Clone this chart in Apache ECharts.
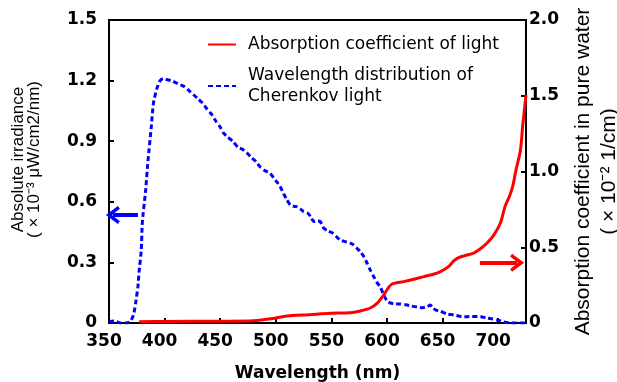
<!DOCTYPE html>
<html>
<head>
<meta charset="utf-8">
<script src="https://cdn.jsdelivr.net/npm/echarts@6/dist/echarts.min.js"></script>
<style>
  html, body { margin: 0; padding: 0; background: #fff; }
  #main { width: 617px; height: 382px; }
</style>
</head>
<body>
<div id="main"></div>
<script>
// wavelength (nm) -> Cherenkov light distribution (x10^-3 uW/cm2/nm)
const cherenkovNm = [350, 355, 360, 365, 369, 372, 374, 376, 377, 379, 380, 383, 385, 388, 390, 393, 396, 399, 402, 406,
  410, 414, 418, 422, 426, 430, 434, 438, 442, 446, 450, 453, 457, 462, 466, 470, 474, 478, 482, 486,
  490, 495, 500, 504, 507, 510, 513, 516, 519, 522, 525, 529, 532, 534, 537, 540, 543, 547, 551, 555,
  558, 561, 564, 567, 570, 573, 576, 579, 582, 585, 588, 591, 594, 597, 600, 603, 607, 612, 617, 622,
  627, 632, 636, 639, 641, 644, 648, 654, 660, 668, 676, 684, 690, 695, 699, 705, 711, 720, 725];
const cherenkovVal = [0.006, 0.01, 0.0, 0.0, 0.006, 0.04, 0.1, 0.18, 0.25, 0.36, 0.5, 0.66, 0.8, 0.97, 1.09, 1.16, 1.2, 1.21, 1.205, 1.2,
  1.19, 1.18, 1.17, 1.15, 1.13, 1.11, 1.09, 1.06, 1.035, 1.0, 0.97, 0.94, 0.92, 0.895, 0.87, 0.86, 0.842, 0.82, 0.8, 0.772,
  0.755, 0.74, 0.705, 0.675, 0.64, 0.61, 0.584, 0.578, 0.576, 0.565, 0.551, 0.543, 0.52, 0.502, 0.505, 0.502, 0.47, 0.455, 0.446, 0.425,
  0.411, 0.405, 0.4, 0.395, 0.386, 0.37, 0.353, 0.33, 0.297, 0.262, 0.23, 0.2, 0.178, 0.14, 0.11, 0.099, 0.095, 0.094, 0.09, 0.084,
  0.079, 0.076, 0.08, 0.089, 0.075, 0.064, 0.058, 0.045, 0.04, 0.031, 0.032, 0.031, 0.025, 0.02, 0.015, 0.005, 0.0, 0.0, 0.0];

// wavelength (nm) -> absorption coefficient of pure water (x10^-2 1/cm)
const absorbNm = [377, 400, 450, 480, 498, 510, 530, 549, 567, 575, 585, 591, 597, 601, 604, 608, 615, 625, 633, 641,
  648, 655, 660, 664, 670, 678, 684, 690, 696, 702, 706, 710, 713, 716, 720, 722, 725];
const absorbVal = [0.009, 0.01, 0.012, 0.015, 0.03, 0.046, 0.055, 0.064, 0.068, 0.078, 0.099, 0.13, 0.185, 0.23, 0.255, 0.265, 0.273, 0.29, 0.306, 0.32,
  0.339, 0.37, 0.41, 0.43, 0.445, 0.462, 0.49, 0.528, 0.58, 0.66, 0.766, 0.834, 0.9, 1.01, 1.14, 1.3, 1.505];

const seriesNames = ['Absorption coefficient of light', 'Wavelength distribution of\nCherenkov light'];

// arrows pointing to the axis each curve belongs to
const blueArrow = [[376, 0.535], [353.5, 0.535]];
const redArrow = [[683.5, 0.398], [717, 0.398]];

let myChart = echarts.init(document.getElementById('main'));

const chevron = 'path://M10,0 L20,12 L17,14 L10,6 L3,14 L0,12 Z';

let option = {
  backgroundColor: '#fff',
  animation: false,
  grid: {
    left: 109,
    right: 91,
    top: 20,
    bottom: 59,
    outerBoundsMode: 'none',
    show: true,
    borderColor: '#000',
    borderWidth: 2
  },
  legend: {
    orient: 'vertical',
    left: 202,
    top: 29,
    itemWidth: 28,
    itemHeight: 12,
    itemGap: 10,
    data: seriesNames,
    itemStyle: { color: 'transparent', borderWidth: 0 },
    textStyle: {
      color: '#000',
      fontSize: 17,
      fontFamily: 'DejaVu Sans',
      lineHeight: 21,
      padding: [0, 0, 0, 7]
    }
  },
  xAxis: {
    type: 'value',
    min: 350,
    max: 725,
    interval: 50,
    name: 'Wavelength (nm)',
    nameLocation: 'middle',
    nameGap: 42,
    nameTextStyle: {
      color: '#000',
      fontSize: 17,
      fontWeight: 'bold',
      fontFamily: 'DejaVu Sans'
    },
    splitLine: { show: false },
    axisLine: { lineStyle: { color: '#000', width: 2 } },
    axisTick: { inside: true, length: 5, lineStyle: { color: '#000', width: 2 } },
    axisLabel: {
      color: '#000',
      fontSize: 17,
      fontWeight: 'bold',
      fontFamily: 'DejaVu Sans',
      margin: 10,
      padding: [0, 10, 0, 0],
      showMaxLabel: false
    }
  },
  yAxis: [{
    type: 'value',
    min: 0,
    max: 1.5,
    interval: 0.3,
    name: 'Absolute irradiance\n( × 10⁻³ μW/cm2/nm)',
    nameLocation: 'middle',
    nameRotate: 90,
    nameGap: 67,
    nameTextStyle: {
      color: '#000',
      fontSize: 17,
      fontFamily: 'Liberation Sans',
      lineHeight: 16,
      padding: [0, 0, 0, 24]
    },
    splitLine: { show: false },
    axisLine: { lineStyle: { color: '#000', width: 2 } },
    axisTick: { inside: true, length: 5, lineStyle: { color: '#000', width: 2 } },
    axisLabel: {
      color: '#000',
      fontSize: 17,
      fontWeight: 'bold',
      fontFamily: 'DejaVu Sans',
      margin: 12,
      formatter: function (v) { return v === 0 ? '0' : v.toFixed(1); }
    }
  }, {
    type: 'value',
    position: 'right',
    min: 0,
    max: 2.0,
    interval: 0.5,
    name: 'Absorption coefficient in pure water\n( × 10⁻² 1/cm)',
    nameLocation: 'middle',
    nameRotate: 90,
    nameGap: 38,
    nameTextStyle: {
      color: '#000',
      fontSize: 21,
      fontFamily: 'Liberation Sans',
      lineHeight: 26
    },
    splitLine: { show: false },
    axisLine: { lineStyle: { color: '#000', width: 2 } },
    axisTick: { inside: true, length: 5, lineStyle: { color: '#000', width: 2 } },
    axisLabel: {
      color: '#000',
      fontSize: 17,
      fontWeight: 'bold',
      fontFamily: 'DejaVu Sans',
      margin: 3,
      formatter: function (v) { return v === 0 ? '0' : v.toFixed(1); }
    }
  }],
  series: [{
    name: seriesNames[1],
    type: 'line',
    yAxisIndex: 0,
    symbol: 'none',
    smooth: 0.2,
    data: cherenkovNm.map((x, i) => [x, cherenkovVal[i]]),
    lineStyle: { color: '#0000ff', width: 3, type: [5, 3] },
    itemStyle: { color: '#0000ff' },
    markLine: {
      silent: true,
      symbol: ['none', chevron],
      symbolSize: [18, 14],
      label: { show: false },
      lineStyle: { color: '#0000ff', width: 4, type: 'solid' },
      data: [[{ coord: blueArrow[0] }, { coord: blueArrow[1] }]]
    }
  }, {
    name: seriesNames[0],
    type: 'line',
    yAxisIndex: 1,
    symbol: 'none',
    smooth: 0.3,
    data: absorbNm.map((x, i) => [x, absorbVal[i]]),
    lineStyle: { color: '#ff0000', width: 3 },
    itemStyle: { color: '#ff0000' },
    markLine: {
      silent: true,
      symbol: ['none', chevron],
      symbolSize: [18, 14],
      label: { show: false },
      lineStyle: { color: '#ff0000', width: 4, type: 'solid' },
      data: [[{ coord: redArrow[0] }, { coord: redArrow[1] }]]
    }
  }]
};

myChart.setOption(option);
</script>
</body>
</html>
